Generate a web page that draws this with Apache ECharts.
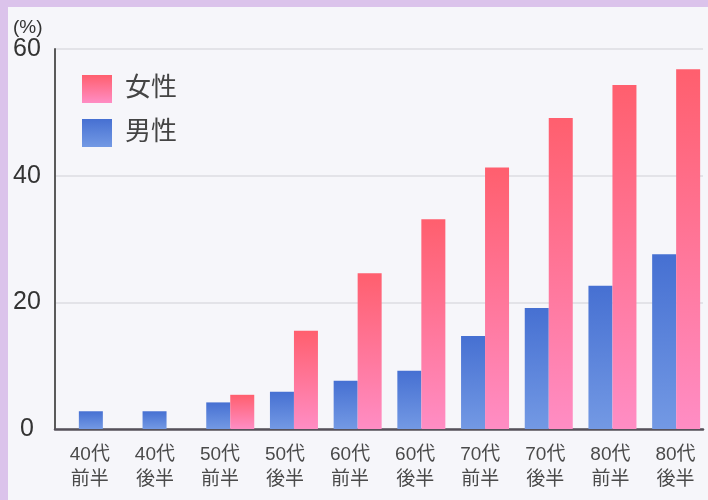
<!DOCTYPE html>
<html>
<head>
<meta charset="utf-8">
<script src="https://cdn.jsdelivr.net/npm/echarts@6/dist/echarts.min.js"></script>
<style>
  html, body { margin: 0; padding: 0; background: #dbc3eb; width: 708px; height: 500px; overflow: hidden; }
  #chart { position: absolute; left: 8px; top: 7px; width: 700px; height: 493px; }
</style>
</head>
<body>
<div id="chart"></div>
<script>
const categories = ['40代\n前半', '40代\n後半', '50代\n前半', '50代\n後半', '60代\n前半', '60代\n後半', '70代\n前半', '70代\n後半', '80代\n前半', '80代\n後半'];
const maleValues = [2.8, 2.8, 4.2, 5.9, 7.6, 9.2, 14.7, 19.1, 22.6, 27.6];
const femaleValues = [0, 0, 5.4, 15.5, 24.6, 33.1, 41.3, 49.1, 54.3, 56.8];
const yTicks = [0, 20, 40, 60];
const legendNames = ['女性', '男性'];
const unitLabel = '(%)';

const FONT = "'Liberation Sans', 'Noto Sans CJK JP', sans-serif";
const chart = echarts.init(document.getElementById('chart'));

const pinkGrad = new echarts.graphic.LinearGradient(0, 0, 0, 1, [
  { offset: 0, color: '#ff5f6e' }, { offset: 1, color: '#ff8dc4' }
]);
const blueGrad = new echarts.graphic.LinearGradient(0, 0, 0, 1, [
  { offset: 0, color: '#4670d2' }, { offset: 1, color: '#7399e4' }
]);

const yMin = yTicks[0], yMax = yTicks[yTicks.length - 1], yStep = yTicks[1] - yTicks[0];

chart.setOption({
  backgroundColor: '#f6f6fa',
  animation: false,
  textStyle: { fontFamily: FONT },
  graphic: [{
    type: 'text', left: 5, top: 11,
    style: { text: unitLabel, fontSize: 19, fill: '#333', fontFamily: FONT }
  }],
  legend: {
    data: legendNames,
    orient: 'vertical',
    left: 74, top: 68, padding: 0,
    itemWidth: 30, itemHeight: 28, itemGap: 16,
    icon: 'rect',
    textStyle: { fontSize: 26, color: '#444', fontFamily: FONT, padding: [0, 0, 0, 8] }
  },
  grid: [
    { left: 47, right: 5, top: 42, bottom: 71 },
    { left: 63, right: -3, top: 42, bottom: 71 },
    { left: 49.3, right: -3.3, top: 42, bottom: 71 }
  ],
  xAxis: [
    { type: 'category', gridIndex: 0, data: categories,
      axisLine: { show: true, lineStyle: { color: '#56515a', width: 2.5 } },
      axisTick: { show: false }, axisLabel: { show: false } },
    { type: 'category', gridIndex: 1, data: categories, show: false },
    { type: 'category', gridIndex: 2, data: categories,
      axisLine: { show: false }, axisTick: { show: false },
      axisLabel: { fontSize: 19, lineHeight: 25, color: '#4a4a4a', margin: 13, fontFamily: FONT } }
  ],
  yAxis: [
    { type: 'value', gridIndex: 0, min: yMin, max: yMax, interval: yStep,
      axisLine: { show: true, lineStyle: { color: '#5a5a5a', width: 2 } },
      axisTick: { show: false },
      axisLabel: { fontSize: 25, color: '#333', align: 'center', margin: 28, fontFamily: FONT },
      splitLine: { show: true, lineStyle: { color: '#dcdce2', width: 1.5 } } },
    { type: 'value', gridIndex: 1, min: yMin, max: yMax, interval: yStep, show: false, splitLine: { show: false } },
    { type: 'value', gridIndex: 2, min: yMin, max: yMax, interval: yStep, show: false, splitLine: { show: false } }
  ],
  series: [
    { name: legendNames[1], type: 'bar', xAxisIndex: 1, yAxisIndex: 1,
      data: maleValues, barWidth: 24, barGap: '0%',
      itemStyle: { color: blueGrad } },
    { name: legendNames[0], type: 'bar', xAxisIndex: 1, yAxisIndex: 1,
      data: femaleValues, barWidth: 24, barGap: '0%',
      itemStyle: { color: pinkGrad } }
  ]
});
</script>
</body>
</html>
